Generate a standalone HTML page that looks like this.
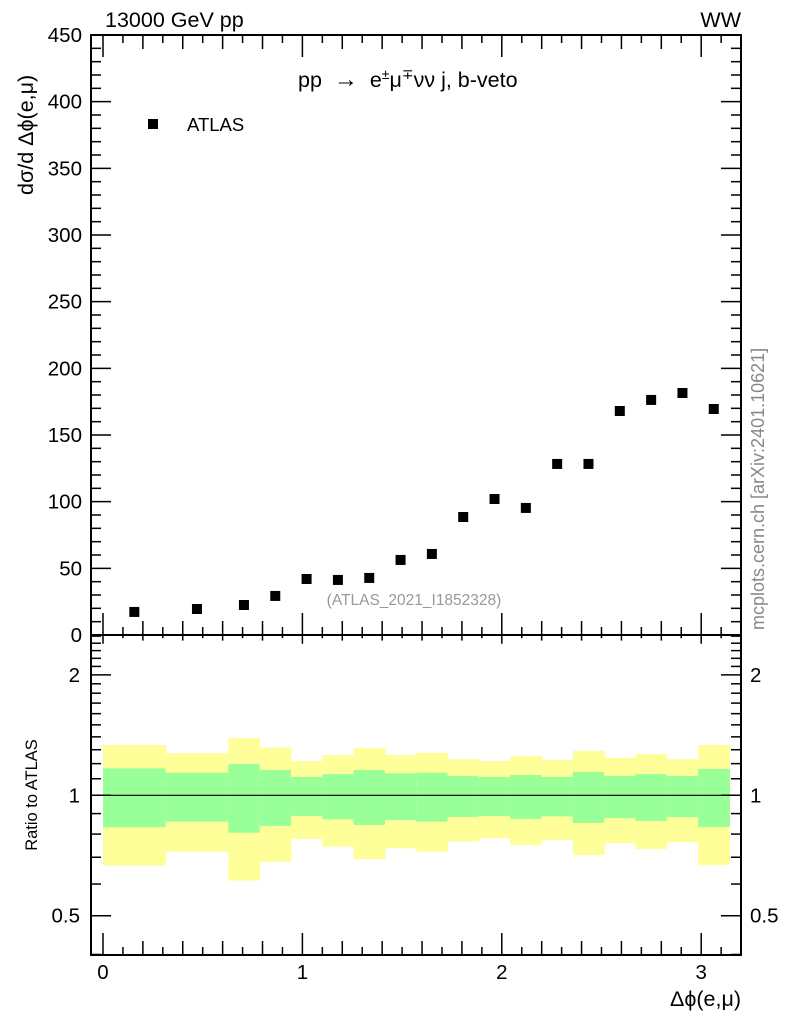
<!DOCTYPE html>
<html><head><meta charset="utf-8"><style>
body{margin:0;background:#fff;}
svg{display:block;font-family:"Liberation Sans",sans-serif;}
</style></head><body>
<svg id="chart" width="786" height="1024" viewBox="0 0 786 1024">
<g id="bands"></g>
<g id="ticks"></g>
<line x1="91" x2="741" y1="795.3" y2="795.3" stroke="#000" stroke-width="1.2"/>
<rect x="91" y="35" width="650" height="600" fill="none" stroke="#000" stroke-width="2"/>
<rect x="91" y="635" width="650" height="320" fill="none" stroke="#000" stroke-width="2"/>
<g id="points"></g>
<g id="labels" font-size="20.5"></g>
<text x="105" y="27" font-size="21.5">13000 GeV pp</text>
<text x="741" y="27" font-size="21.5" text-anchor="end">WW</text>
<text x="298" y="87" font-size="21.5" xml:space="preserve">pp  <tspan font-size="24">→</tspan>  e<tspan font-size="14" dy="-8">±</tspan><tspan dy="8">μ</tspan><tspan font-size="14" dy="-8">∓</tspan><tspan dy="8">νν j, b-veto</tspan></text>
<rect x="148" y="119" width="10" height="10" fill="#000"/>
<text x="187" y="131" font-size="18.5">ATLAS</text>
<text transform="translate(33,195) rotate(-90)" font-size="21.5">dσ/d Δϕ(e,μ)</text>
<text transform="translate(37,795) rotate(-90)" font-size="16.5" text-anchor="middle">Ratio to ATLAS</text>
<text transform="translate(764,630) rotate(-90)" font-size="18" fill="#888">mcplots.cern.ch [arXiv:2401.10621]</text>
<text x="414" y="605" font-size="15.5" fill="#999" text-anchor="middle">(ATLAS_2021_I1852328)</text>
<text x="741" y="1006" font-size="21.5" text-anchor="end">Δϕ(e,μ)</text>
</svg>
<script>
const binEdges=[0,0.31416,0.62832,0.7854,0.94248,1.09956,1.25664,1.41372,1.5708,1.72788,1.88496,2.04204,2.19911,2.35619,2.51327,2.67035,2.82743,2.98451,3.14159];
const atlasValues=[17.3,19.5,22.5,29.3,42,41.3,42.8,56.3,60.8,88.5,102,95.3,128.3,128.3,168,176.3,181.5,169.5];
const yellowHi=[1.336,1.274,1.391,1.318,1.218,1.261,1.313,1.261,1.276,1.232,1.218,1.254,1.225,1.291,1.24,1.268,1.232,1.336];
const greenHi=[1.168,1.139,1.197,1.157,1.111,1.130,1.157,1.135,1.139,1.117,1.111,1.124,1.111,1.143,1.117,1.130,1.117,1.164];
const greenLo=[0.832,0.859,0.806,0.838,0.888,0.871,0.843,0.867,0.859,0.883,0.888,0.873,0.886,0.853,0.877,0.863,0.882,0.833];
const yellowLo=[0.667,0.723,0.612,0.682,0.778,0.744,0.692,0.737,0.723,0.766,0.781,0.751,0.773,0.709,0.759,0.734,0.764,0.669];
const yTicks=[0,50,100,150,200,250,300,350,400,450];
const xTicks=[0,1,2,3];
const rTicks=[0.5,1,2];

const NS="http://www.w3.org/2000/svg";
const X=v=>103+v*199.4;
const Y=v=>635-v*600/450;
const R=v=>795.3-Math.log10(v)*400;
function mk(tag,attrs,parent){const e=document.createElementNS(NS,tag);for(const k in attrs)e.setAttribute(k,attrs[k]);document.getElementById(parent).appendChild(e);return e;}

for(let i=0;i<atlasValues.length;i++){
  const x0=X(binEdges[i]),x1=X(binEdges[i+1]);
  const y=mk('rect',{x:x0,y:R(yellowHi[i]),width:x1-x0+0.5,height:R(yellowLo[i])-R(yellowHi[i]),fill:'#ffff99'},'bands');
  
  
  const g=mk('rect',{x:x0,y:R(greenHi[i]),width:x1-x0+0.5,height:R(greenLo[i])-R(greenHi[i]),fill:'#99ff99'},'bands');
  
  
  const c=(binEdges[i]+binEdges[i+1])/2;
  const p=mk('rect',{x:X(c)-5,y:Y(atlasValues[i])-5,width:10,height:10,fill:'#000'},'points');
  
  
}
function ln(x1,y1,x2,y2){mk('line',{x1,y1,x2,y2,stroke:'#000','stroke-width':1.5},'ticks');}
for(let v=0;v<=450;v+=10){const maj=v%50===0,L=maj?20:10,y=Y(v);ln(91,y,91+L,y);ln(741,y,741-L,y);}
for(let k=0;k<=32;k++){const v=k/10,x=X(v);if(x>741)break;const L=k%10===0?22:(k%2===0?14:8);
  ln(x,635,x,635-L);ln(x,955,x,955-L);ln(x,35,x,35+L);ln(x,635,x,635+L*0.4);}
for(let k=4;k<=25;k++){const v=k/10,y=R(v);if(y<636)continue;const maj=(k===5||k===10||k===20),L=maj?20:10;ln(91,y,91+L,y);ln(741,y,741-L,y);}
yTicks.forEach(v=>{const t=mk('text',{x:82,y:Y(v)+7,'text-anchor':'end'},'labels');t.textContent=v;
  
  });
xTicks.forEach(v=>{const t=mk('text',{x:X(v),y:979,'text-anchor':'middle'},'labels');t.textContent=v;
  
  });
rTicks.forEach(v=>{const a=mk('text',{x:80,y:R(v)+7,'text-anchor':'end'},'labels');a.textContent=v;
  
  
  const b=mk('text',{x:750,y:R(v)+7},'labels');b.textContent=v;
  
  });
</script>
</body></html>
